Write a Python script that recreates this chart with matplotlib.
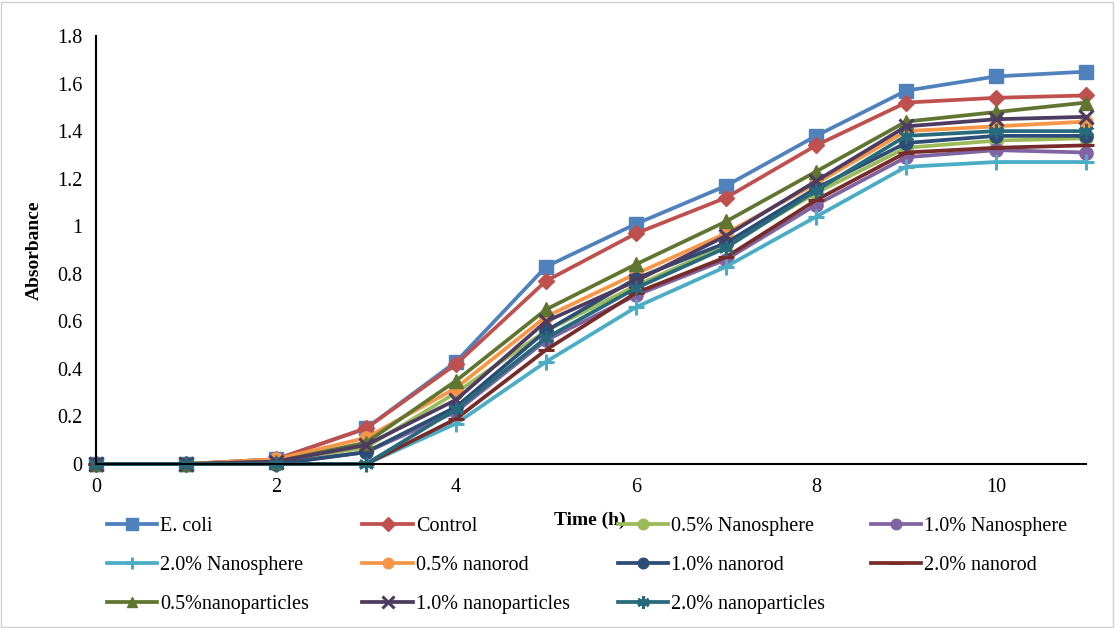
import matplotlib.pyplot as plt
from matplotlib.patches import Rectangle

plt.rcParams['font.family'] = ['Liberation Serif', 'DejaVu Serif']

hours = [0, 1, 2, 3, 4, 5, 6, 7, 8, 9, 10, 11]

ecoli = [0, 0, 0.02, 0.15, 0.43, 0.83, 1.01, 1.17, 1.38, 1.57, 1.63, 1.65]
control = [0, 0, 0.02, 0.15, 0.42, 0.77, 0.97, 1.12, 1.34, 1.52, 1.54, 1.55]
sphere05 = [0, 0, 0.01, 0.07, 0.30, 0.56, 0.75, 0.92, 1.14, 1.33, 1.36, 1.37]
sphere10 = [0, 0, 0, 0.05, 0.22, 0.52, 0.71, 0.86, 1.09, 1.29, 1.32, 1.31]
sphere20 = [0, 0, 0, 0, 0.17, 0.43, 0.66, 0.83, 1.04, 1.25, 1.27, 1.27]
rod05 = [0, 0, 0.02, 0.11, 0.32, 0.62, 0.80, 0.97, 1.18, 1.40, 1.42, 1.44]
rod10 = [0, 0, 0, 0.05, 0.24, 0.56, 0.78, 0.93, 1.16, 1.35, 1.38, 1.38]
rod20 = [0, 0, 0, 0, 0.19, 0.48, 0.72, 0.87, 1.11, 1.31, 1.33, 1.34]
part05 = [0, 0, 0.01, 0.09, 0.35, 0.65, 0.84, 1.02, 1.23, 1.44, 1.48, 1.52]
part10 = [0, 0, 0.01, 0.08, 0.27, 0.60, 0.77, 0.96, 1.19, 1.42, 1.45, 1.46]
part20 = [0, 0, 0, 0, 0.23, 0.53, 0.74, 0.91, 1.15, 1.38, 1.40, 1.40]

labels = ['E. coli', 'Control', '0.5% Nanosphere', '1.0% Nanosphere',
          '2.0% Nanosphere', '0.5% nanorod', '1.0% nanorod', '2.0% nanorod',
          '0.5%nanoparticles', '1.0% nanoparticles', '2.0% nanoparticles']
series = [ecoli, control, sphere05, sphere10, sphere20, rod05, rod10, rod20,
          part05, part10, part20]
colors = ['#4F81BD', '#C0504D', '#9BBB59', '#8064A2', '#4BACC6', '#F79646',
          '#2C4D75', '#772C2A', '#5F7530', '#4D3B62', '#276A7C']
markers = ['s', 'D', 'o', 'o', '+', 'o', 'o', '_', '^', 'x', (6, 2, 0)]
msizes = [10.5, 8.5, 9.5, 9.5, 11, 9.5, 9.5, 12, 9.5, 10, 11]

fig = plt.figure(figsize=(11.15, 6.28), dpi=100)
fig.patches.append(Rectangle((0.001, 0.002), 0.997, 0.995, transform=fig.transFigure,
                             fill=False, edgecolor='#d0d0d0', linewidth=1))
ax = fig.add_axes([0.0861, 0.2611, 0.888, 0.6816])

handles = []
for y, lab, c, m, ms in zip(series, labels, colors, markers, msizes):
    h, = ax.plot(hours, y, color=c, marker=m, markersize=ms, linewidth=2.7,
                 markeredgewidth=2.2 if m in ['+', 'x', '_', (6, 2, 0)] else 1,
                 markeredgecolor=c, label=lab, clip_on=False)
    handles.append(h)

ax.set_xlim(0, 11)
ax.set_ylim(0, 1.8)
ax.set_xticks([0, 2, 4, 6, 8, 10])
ax.set_yticks([0, 0.2, 0.4, 0.6, 0.8, 1.0, 1.2, 1.4, 1.6, 1.8])
ax.set_yticklabels(['0', '0.2', '0.4', '0.6', '0.8', '1', '1.2', '1.4', '1.6', '1.8'])
ax.tick_params(length=0, labelsize=14.5, pad=10)
for s in ['top', 'right']:
    ax.spines[s].set_visible(False)
for s in ['left', 'bottom']:
    ax.spines[s].set_linewidth(1.5)
    ax.spines[s].set_color('black')

ax.set_ylabel('Absorbance', fontsize=14, fontweight='bold', labelpad=10)
fig.text(0.529, 0.171, 'Time (h)', fontsize=14, fontweight='bold', ha='center', va='center')

# four fixed-width legend columns, like Excel
col_x = [0.087, 0.316, 0.545, 0.772]
for i in range(4):
    hs = handles[i::4]
    leg = fig.legend(handles=hs, labels=[h.get_label() for h in hs], loc='upper left',
                     bbox_to_anchor=(col_x[i], 0.193), frameon=False, fontsize=14.5,
                     handlelength=2.5, handletextpad=0.15, labelspacing=0.98,
                     borderpad=0, markerscale=0.8)

fig.savefig('out.png', dpi=100)
